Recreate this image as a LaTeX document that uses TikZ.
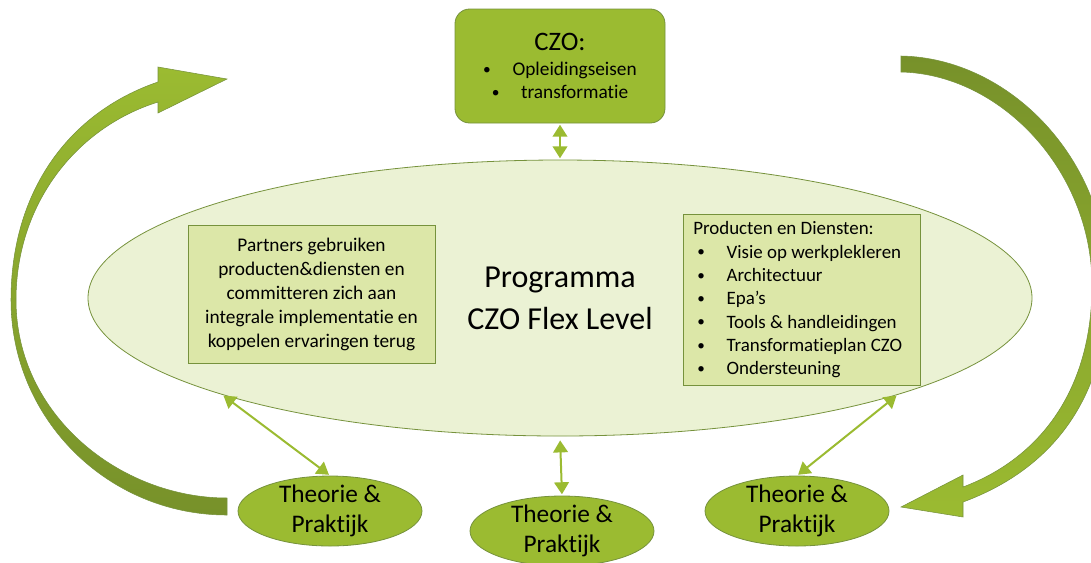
\documentclass[tikz,border=0pt]{standalone}
\usepackage{fontspec}
\setmainfont[Ligatures=NoCommon]{Carlito}
\usetikzlibrary{shapes.geometric,arrows.meta}
\definecolor{czgreen}{HTML}{9BBB31}
\definecolor{czdark}{HTML}{77912A}
\definecolor{czline}{HTML}{76923C}
\definecolor{czpale}{HTML}{EBF2D4}
\definecolor{czbox}{HTML}{DCE7A8}
\tikzset{
  topbox/.style={rectangle, rounded corners=11pt, draw=czline, line width=0.6pt, fill=czgreen,
    minimum width=157.5pt, minimum height=85.5pt, inner sep=0pt, align=center,
    font=\fontsize{14.5}{17.3}\selectfont},
  bigell/.style={ellipse, draw=czline, line width=0.6pt, fill=czpale,
    minimum width=708pt, minimum height=207pt, inner sep=0pt, align=center,
    font=\fontsize{24}{31.5}\selectfont},
  infobox/.style={rectangle, draw=czline, line width=0.6pt, fill=czbox, inner sep=0pt},
  smallell/.style={ellipse, draw=czline, line width=0.6pt, fill=czgreen,
    minimum width=138pt, minimum height=52.5pt, inner sep=0pt},
  elltext/.style={inner sep=0pt, align=center, font=\fontsize{19}{22}\selectfont},
  dblarrow/.style={{Triangle[width=11pt,length=9pt]}-{Triangle[width=11pt,length=9pt]},
    draw=czgreen, line width=1.5pt, shorten <=1pt, shorten >=1pt},
  bigarrow/.style={draw=czline, line width=0.4pt}
}
\newcommand{\czbul}[1]{\makebox[22pt][l]{\raisebox{0.08em}{\scalebox{0.8}{\textbullet}}}#1}
\begin{document}
\begin{tikzpicture}[x=0.75pt,y=-0.75pt]
\useasboundingbox (0,0) rectangle (1091,562);
\clip (0,0) rectangle (1091,562);

% left curved arrow
\shade[bigarrow, top color=czgreen, bottom color=czdark]
  (227,498) .. controls (120,498) and (16,415) .. (16,300)
  .. controls (16,205) and (75,128) .. (158,102)
  -- (158,113) -- (227,79) -- (158,67) -- (158,82)
  .. controls (70,112) and (11,190) .. (11,300)
  .. controls (11,419) and (108,515) .. (227,515) -- cycle;

% right curved arrow
\shade[bigarrow, top color=czdark, bottom color=czgreen]
  (901,56) .. controls (1010,58) and (1108,160) .. (1108,285)
  .. controls (1108,400) and (1050,470) .. (963,502)
  -- (963,517) -- (901,507) -- (963,475) -- (963,487)
  .. controls (1040,458) and (1092,390) .. (1092,285)
  .. controls (1092,170) and (1000,74) .. (901,72) -- cycle;

% top box
\node[topbox] (czo) at (560,66) {{\fontsize{20}{24}\selectfont CZO:}\\[2pt]
  \czbul{Opleidingseisen}\\
  \czbul{transformatie}};

% big ellipse
\node[bigell] (prog) at (560,298) {Programma\\CZO Flex Level};

% left info box
\node[infobox, minimum width=185.25pt, minimum height=103.5pt] (partners) at (311.5,294) {};
\node[inner sep=0pt, align=center, font=\fontsize{14.5}{18}\selectfont] (partnerstext) at (partners.center)
  {Partners gebruiken\\producten\&diensten en\\committeren zich aan\\integrale implementatie en\\koppelen ervaringen terug};

% right info box
\node[infobox, minimum width=177.75pt, minimum height=128.25pt] (prod) at (801.5,299.5) {};
\node[inner sep=0pt, anchor=west, align=left, font=\fontsize{14.2}{17.5}\selectfont] (prodtext) at (693,300)
  {Producten en Diensten:\\
   \hspace*{3pt}\czbul{Visie op werkplekleren}\\
   \hspace*{3pt}\czbul{Architectuur}\\
   \hspace*{3pt}\czbul{Epa’s}\\
   \hspace*{3pt}\czbul{Tools \& handleidingen}\\
   \hspace*{3pt}\czbul{Transformatieplan CZO}\\
   \hspace*{3pt}\czbul{Ondersteuning}};

% bottom ellipses
\node[smallell] (tp1) at (330,511) {};
\node[elltext] (tt1) at (tp1.center) {Theorie \&\\Praktijk};
\node[smallell] (tp2) at (562,531) {};
\node[elltext] (tt2) at (tp2.center) {Theorie \&\\Praktijk};
\node[smallell] (tp3) at (797,511) {};
\node[elltext] (tt3) at (tp3.center) {Theorie \&\\Praktijk};

% connectors
\draw[dblarrow] (czo.south) -- (prog.north);
\draw[dblarrow] (prog.196.8) -- (tp1.north);
\draw[dblarrow, shorten <=3pt] (prog.south) -- (tp2.north);
\draw[dblarrow] (prog.-16.8) -- (tp3.north);
\end{tikzpicture}
\end{document}
